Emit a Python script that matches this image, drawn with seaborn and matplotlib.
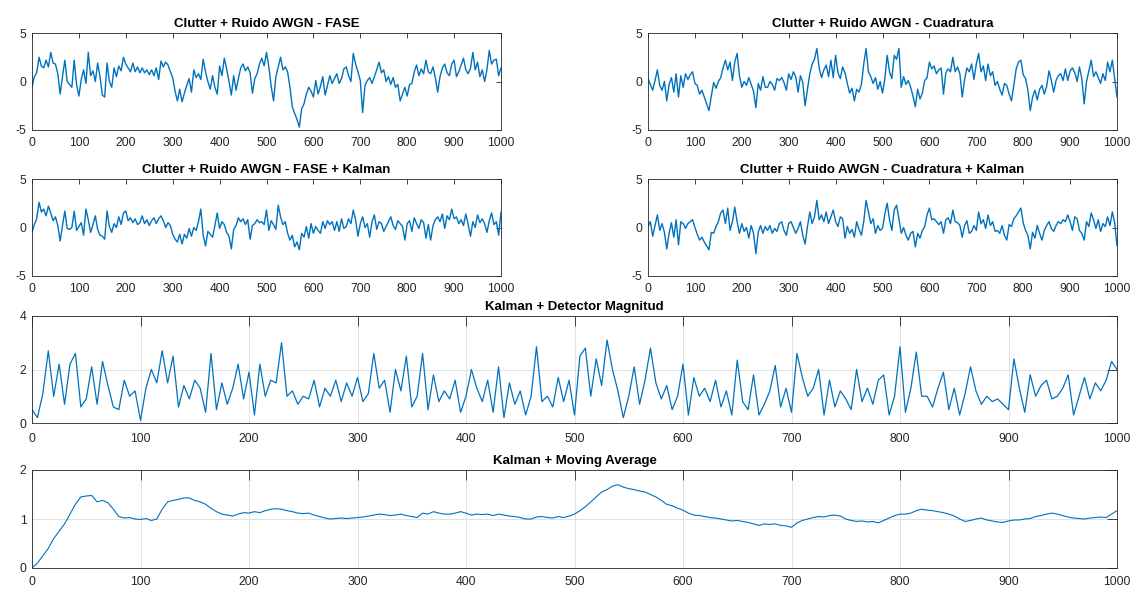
import numpy as np
import pandas as pd
import matplotlib
matplotlib.use("Agg")
import matplotlib.pyplot as plt
import seaborn as sns

# Sampled signals (one value every 5 samples, 0..1000)
STEP = 5

fase = [
    -0.6, 0.5, 0.9, 2.5, 1.6, 1.4, 2.2, 1.5, 3.0, 1.9,
    1.8, 0.8, -1.3, 0.5, 2.2, 0.0, -0.3, -0.6, 2.2, -0.3,
    -1.5, 0.2, 1.2, -0.2, 3.0, 0.6, 1.1, 0.0, 1.9, 0.5,
    -1.4, -1.6, 1.9, 0.0, -0.6, 1.4, 0.5, 1.6, 1.1, 2.5,
    1.8, 1.4, 1.0, 1.9, 1.0, 1.5, 0.9, 1.4, 0.9, 1.2,
    0.7, 1.2, 0.6, 1.4, 0.2, 2.1, 1.5, 2.0, 1.7, 1.0,
    0.4, -1.0, -2.0, -0.8, -2.1, -1.2, -0.4, 0.3, -1.1, 1.2,
    0.4, 0.8, 0.2, 2.3, 1.0, 0.0, -0.8, 0.6, -0.6, -1.3,
    1.6, 0.6, 2.4, 1.3, 0.0, -1.4, 0.6, -0.9, 0.3, 1.4,
    1.8, 1.1, 1.5, 0.9, -1.2, 0.3, 0.8, 1.8, 2.4, 1.6,
    3.0, 1.5, -0.5, -2.0, 0.5, 1.5, 2.5, 1.2, 1.5, 1.0,
    -0.6, -2.6, -3.3, -3.9, -4.7, -2.8, -2.3, -1.3, -0.6, -1.0,
    -1.6, 0.1, -1.3, -0.5, 0.5, -1.4, -0.4, 0.6, -0.2, 0.3,
    0.8, -0.2, 0.3, 1.3, 1.5, 0.6, 0.0, 2.9, 1.8, 1.0,
    0.1, -3.2, -0.4, 0.1, 0.4, -0.2, 0.5, 1.2, 2.0, 0.9,
    1.2, 0.0, 0.5, -0.3, 0.4, -0.6, -0.3, -2.0, -1.3, -0.6,
    -1.5, -0.3, -0.2, 1.0, 1.7, 0.6, 1.3, 0.8, 2.2, 1.0,
    0.8, 1.5, 0.4, -1.1, 0.5, 1.4, 1.8, 0.9, 0.6, 1.8,
    2.2, 0.5, 1.0, 1.7, 2.4, 1.2, 0.8, 1.4, 3.0, 1.2,
    2.0, 0.5, 1.2, 0.0, 1.2, 3.2, 1.8, 2.2, 2.3, 0.6,
    1.4,
]

cuadratura = [
    0.3, -0.3, -0.9, 0.1, 1.2, -0.4, -0.9, 0.0, -2.0, -0.3,
    0.4, -1.1, 0.8, -1.6, 0.6, -0.6, 0.8, 0.2, 0.7, 1.0,
    -0.2, -0.4, -1.3, -0.9, -1.6, -2.3, -3.0, -1.5, -0.1, -0.7,
    0.0, 0.4, 1.4, 2.2, 1.2, 2.0, 0.1, 2.0, 2.9, 0.6,
    -0.6, 0.0, -0.4, 0.4, -0.3, -1.0, -2.7, -0.2, -0.9, 0.5,
    -0.6, -0.6, 0.0, -0.3, -0.9, 0.3, 0.1, 0.4, -0.1, -0.9,
    0.8, 0.2, 1.0, 0.5, -1.1, 0.6, -0.1, -2.5, -0.8, 0.8,
    1.8, 2.3, 3.4, 1.4, 0.4, 1.2, 1.7, 0.5, 2.2, 0.4,
    2.7, 0.9, 0.3, 1.5, 0.9, -0.2, -1.2, -0.7, -2.0, -0.8,
    -1.1, -0.3, 1.8, 3.4, 1.0, 0.5, -0.2, 0.4, -0.8, 0.0,
    -1.2, 0.3, 2.7, 1.0, 0.3, 2.7, 2.3, 3.4, -0.6, 0.5,
    -0.3, 0.1, -0.6, -1.5, -2.6, -0.8, -1.8, -1.2, 0.1, 0.4,
    2.0, 1.3, 1.6, 0.8, 1.2, 1.4, -1.3, 0.9, 1.3, 1.0,
    2.5, 1.0, 1.5, 0.8, -1.6, 0.2, 1.4, 1.0, 1.8, 0.2,
    1.8, 2.9, 1.0, 1.6, 0.1, 1.8, 0.6, 1.0, -0.4, 0.0,
    -0.8, -1.4, -0.2, -0.4, -1.3, -2.0, -0.4, 1.3, 2.0, 2.2,
    0.7, 0.3, -0.9, -3.0, -1.6, -0.9, -1.9, -0.8, -0.4, -1.3,
    -0.5, 1.1, 0.1, -1.1, 0.1, 0.6, 0.8, 0.1, 1.3, 0.1,
    1.1, 1.4, 0.9, 0.0, 1.5, 0.3, -2.3, 0.0, 1.1, 2.2,
    0.5, 1.0, 0.4, -0.2, 0.8, 0.1, 2.0, 1.0, 2.2, 0.3,
    -1.6,
]

fase_kalman = [
    -0.5, 0.3, 0.9, 2.6, 1.6, 1.9, 1.2, 2.2, 1.5, 0.7,
    1.1, 0.2, -1.4, 0.2, 1.7, -0.1, -0.2, 0.0, 1.7, -0.3,
    0.1, 0.5, -0.8, 1.9, 0.8, -0.5, 0.3, 1.2, -0.2, -0.8,
    -0.9, -1.2, 1.7, 0.1, -0.5, 0.4, 0.0, 1.1, 0.3, 1.5,
    1.7, 0.7, 1.0, 0.5, 0.9, 0.3, 0.5, 1.2, 0.4, 0.8,
    0.2, 0.7, 1.0, 0.4, 0.9, 1.2, 0.7, 0.0, 0.5, 0.2,
    -0.7, -1.2, -1.5, -0.7, -1.7, -0.7, -1.1, -0.1, -0.9, 0.0,
    -0.3, 0.6, 1.9, -0.8, -1.9, -0.4, -0.7, -1.0, 0.2, 1.5,
    -0.1, 0.6, 0.3, -0.5, -0.9, -2.2, -0.2, 0.2, 1.0, 0.6,
    0.9, 0.3, 0.8, -1.2, 0.2, 0.4, 0.8, 0.5, 0.6, 0.3,
    1.8, -0.3, 0.7, 0.3, -0.2, 2.3, 1.1, 0.3, 0.6, -0.6,
    -1.3, -0.8, -2.0, -1.5, -2.3, -0.6, -1.0, 0.1, -1.1, 0.4,
    -0.6, 0.1, -0.3, -0.6, 0.6, -0.1, 0.7, 0.3, 0.6, -0.3,
    0.6, -0.4, 0.9, -0.1, 0.1, 0.9, 0.4, 1.8, 0.8, -0.9,
    0.4, 1.1, 0.0, 0.4, -1.0, 0.6, 1.3, -0.2, 0.6, 0.4,
    -0.4, 0.1, 0.6, 1.1, 0.2, -0.2, 0.7, 0.4, 0.1, -1.3,
    0.4, 0.7, -0.4, 1.0, 0.4, -0.1, 0.8, 0.5, -1.1, 0.3,
    -1.3, 0.2, 0.8, 1.1, 0.6, 1.4, -0.1, 1.2, 0.8, 1.9,
    0.9, 1.1, 0.4, 0.8, 0.2, 1.4, 0.3, -0.9, 0.6, 0.0,
    1.3, 0.5, 0.9, 0.4, -0.5, 0.7, 1.5, 0.3, 0.6, -0.8,
    1.6,
]

cuadratura_kalman = [
    0.1, 0.6, -0.9, 0.2, 1.3, -0.3, 0.4, -0.5, -2.2, -0.6,
    0.5, -1.0, 0.8, -1.8, 0.6, 0.4, -0.1, 0.4, 0.6, 0.8,
    0.0, -0.7, -1.3, -1.0, -1.5, -1.9, -2.3, -0.5, -0.6, 0.1,
    0.6, 1.5, 1.8, 0.4, 2.0, -0.3, 0.6, 2.1, 0.6, -0.6,
    0.4, -0.4, 0.0, -1.1, 0.2, -0.6, -2.7, -0.5, 0.2, -0.6,
    0.1, -0.3, 0.2, -0.6, -0.1, -0.4, 0.4, 0.6, -0.3, -0.8,
    0.4, 0.6, 0.0, -0.6, -0.1, 0.6, -0.8, -1.7, 0.1, 1.6,
    0.4, 1.1, 2.8, 0.8, 1.3, 0.6, 1.6, 0.4, 1.1, 1.8,
    0.6, 0.1, 1.1, 0.9, -1.1, 0.1, -0.6, -0.2, -1.0, 0.6,
    -0.2, -0.8, 0.6, 2.8, 1.6, 0.4, 0.9, -0.6, 0.2, -0.3,
    -0.1, 1.4, 2.5, 0.8, -0.3, 1.8, 2.3, 0.9, -0.6, 0.0,
    -0.8, -1.3, -0.6, -0.4, -2.0, -0.6, -1.1, -0.3, 0.1, 1.3,
    2.0, 0.8, 0.9, 0.6, 0.3, 0.6, -0.6, 0.8, 1.0, 0.4,
    1.8, 0.6, 0.5, 0.2, -1.0, 0.2, 0.7, -0.6, -0.4, 0.2,
    -0.3, 1.6, 0.4, 0.8, -0.1, 1.3, 0.2, 0.6, -0.4, -0.3,
    -0.6, 0.2, -0.8, -1.3, 0.3, 0.1, 0.9, 1.2, 1.6, 2.0,
    0.5, -0.3, -0.8, -2.2, -0.5, -1.1, 0.2, -0.6, -1.3, -0.3,
    0.2, 0.6, -0.1, -0.4, 0.2, 0.6, 0.4, 0.8, 0.6, 1.3,
    0.6, -0.3, 1.1, 0.9, -0.3, -0.6, -1.3, 0.6, 0.1, 1.5,
    0.8, -0.1, 0.8, -0.4, 0.4, 0.1, 1.1, 0.2, 1.6, 0.5,
    -1.9,
]

magnitud = [
    0.5, 0.2, 1.1, 2.7, 1.0, 2.2, 0.7, 2.2, 2.6, 0.6,
    0.9, 2.1, 0.7, 2.3, 1.4, 0.6, 0.5, 1.6, 1.0, 1.2,
    0.1, 1.3, 2.0, 1.5, 2.7, 1.5, 2.5, 0.6, 1.4, 0.9,
    1.6, 1.3, 0.4, 2.6, 0.5, 1.5, 0.7, 1.3, 2.2, 0.9,
    1.9, 0.3, 2.2, 1.0, 1.6, 1.5, 3.0, 1.0, 1.2, 0.7,
    1.0, 0.9, 1.6, 0.6, 1.3, 1.0, 1.6, 0.8, 1.5, 1.0,
    1.7, 0.8, 1.1, 2.6, 1.3, 1.6, 0.4, 2.0, 1.2, 2.5,
    0.6, 1.0, 2.6, 0.5, 1.8, 0.8, 1.2, 0.9, 1.6, 0.4,
    1.0, 2.0, 1.3, 0.8, 1.6, 0.4, 2.1, 0.2, 1.5, 0.7,
    1.2, 0.3, 1.0, 2.85, 0.8, 1.0, 0.6, 1.7, 0.8, 1.6,
    0.3, 2.5, 2.8, 1.0, 2.4, 1.4, 3.1, 2.0, 1.2, 0.2,
    1.0, 2.1, 0.7, 1.6, 2.8, 1.5, 0.9, 1.4, 0.5, 1.0,
    2.2, 0.3, 1.7, 1.0, 1.3, 0.8, 1.6, 0.6, 1.2, 0.3,
    2.35, 0.8, 0.5, 1.8, 0.3, 0.7, 1.2, 2.15, 0.6, 1.3,
    0.4, 2.6, 1.7, 1.0, 1.3, 2.0, 0.3, 1.6, 0.6, 1.2,
    0.9, 0.5, 2.0, 0.8, 1.3, 0.7, 1.6, 1.8, 0.3, 1.0,
    2.85, 0.4, 1.3, 2.65, 1.0, 1.0, 0.6, 1.3, 1.9, 0.5,
    1.3, 0.3, 1.1, 2.1, 1.2, 0.7, 1.0, 0.8, 0.9, 0.7,
    0.5, 2.4, 1.3, 0.4, 1.8, 1.0, 1.4, 1.6, 0.9, 1.0,
    1.3, 1.8, 0.3, 1.0, 1.7, 0.9, 1.5, 1.2, 1.6, 2.3,
    2.0,
]

moving_avg = [
    0.0, 0.1, 0.25, 0.4, 0.6, 0.75, 0.9, 1.1, 1.3, 1.45,
    1.47, 1.48, 1.35, 1.38, 1.33, 1.2, 1.05, 1.02, 1.03, 1.0,
    0.99, 1.01, 0.97, 1.0, 1.2, 1.35, 1.38, 1.4, 1.43, 1.43,
    1.38, 1.35, 1.3, 1.22, 1.15, 1.1, 1.08, 1.06, 1.1, 1.13,
    1.12, 1.15, 1.13, 1.17, 1.2, 1.21, 1.2, 1.17, 1.15, 1.12,
    1.11, 1.12, 1.08, 1.05, 1.02, 1.0, 1.01, 1.02, 1.01, 1.02,
    1.03, 1.04, 1.06, 1.08, 1.1, 1.09, 1.07, 1.08, 1.1, 1.07,
    1.05, 1.03, 1.12, 1.1, 1.15, 1.12, 1.1, 1.1, 1.12, 1.15,
    1.12, 1.08, 1.1, 1.09, 1.1, 1.07, 1.1, 1.08, 1.06, 1.05,
    1.03, 1.0, 1.0, 1.04, 1.05, 1.03, 1.02, 1.05, 1.03, 1.06,
    1.1, 1.17, 1.25, 1.35, 1.45, 1.55, 1.6, 1.67, 1.7, 1.65,
    1.62, 1.6, 1.57, 1.55, 1.5, 1.45, 1.38, 1.3, 1.27, 1.22,
    1.18, 1.12, 1.08, 1.07, 1.05, 1.03, 1.02, 1.0, 0.98, 0.96,
    0.97, 0.95, 0.93, 0.9, 0.87, 0.9, 0.89, 0.9, 0.87, 0.86,
    0.83, 0.92, 0.97, 1.0, 1.03, 1.05, 1.04, 1.07, 1.08, 1.06,
    1.0, 0.97, 0.95, 0.96, 0.94, 0.95, 0.92, 0.97, 1.02, 1.07,
    1.1, 1.1, 1.12, 1.17, 1.2, 1.18, 1.17, 1.15, 1.13, 1.1,
    1.06, 1.0, 0.95, 0.97, 1.0, 1.02, 0.98, 0.96, 0.94, 0.93,
    0.96, 0.98, 0.98, 1.0, 1.01, 1.05, 1.07, 1.1, 1.12, 1.1,
    1.07, 1.04, 1.02, 1.01, 1.0, 1.02, 1.03, 1.04, 1.03, 1.1,
    1.17,
]

titles = [
    "Clutter + Ruido AWGN - FASE",
    "Clutter + Ruido AWGN - Cuadratura",
    "Clutter + Ruido AWGN - FASE + Kalman",
    "Clutter + Ruido AWGN - Cuadratura + Kalman",
    "Kalman + Detector Magnitud",
    "Kalman + Moving Average",
]
x_ticks = list(range(0, 1001, 100))

sns.set_style("white")
plt.rcParams["font.family"] = ["Liberation Sans", "DejaVu Sans"]
plt.rcParams["axes.unicode_minus"] = False

LINE = "#0072BD"
AXC = "#262626"
W, H = 1136, 590

fig = plt.figure(figsize=(W / 100, H / 100), dpi=100)


def add_ax(left, right, top, bottom):
    return fig.add_axes([left / W, 1 - bottom / H, (right - left) / W, (bottom - top) / H])


def draw(ax, values, title, yticks, ylim, lw, ticklen, xpad, grid=False):
    n = len(values)
    df = pd.DataFrame({"n": np.arange(n) * STEP, "v": values})
    sns.lineplot(data=df, x="n", y="v", ax=ax, color=LINE, linewidth=lw,
                 estimator=None, sort=False)
    ax.set_xlim(0, 1000)
    ax.set_ylim(*ylim)
    ax.set_xticks(x_ticks)
    ax.set_yticks(yticks)
    ax.set_xlabel("")
    ax.set_ylabel("")
    ax.set_title(title, fontsize=9.5, fontweight="bold", color="black", pad=4)
    for s in ax.spines.values():
        s.set_visible(True)
        s.set_color(AXC)
        s.set_linewidth(0.6)
    ax.tick_params(direction="in", top=True, right=True, length=ticklen, width=0.6,
                   color=AXC, labelcolor=AXC, labelsize=8.7)
    ax.tick_params(axis="x", pad=xpad)
    ax.tick_params(axis="y", pad=4)
    if grid:
        ax.grid(True, color="#dcdcdc", linewidth=0.6)
        ax.set_axisbelow(True)
    else:
        ax.grid(False)


ax1 = add_ax(32, 501, 33, 130)
ax2 = add_ax(648, 1117, 33, 130)
ax3 = add_ax(32, 501, 179, 276)
ax4 = add_ax(648, 1117, 179, 276)
ax5 = add_ax(32, 1117, 316, 423)
ax6 = add_ax(32, 1117, 470, 568)

draw(ax1, fase, titles[0], [-5, 0, 5], (-5, 5), 1.0, 3.6, 5)
draw(ax2, cuadratura, titles[1], [-5, 0, 5], (-5, 5), 1.0, 3.6, 5)
draw(ax3, fase_kalman, titles[2], [-5, 0, 5], (-5, 5), 1.0, 3.6, 5)
draw(ax4, cuadratura_kalman, titles[3], [-5, 0, 5], (-5, 5), 1.0, 3.6, 5)
draw(ax5, magnitud, titles[4], [0, 2, 4], (0, 4), 0.9, 7.0, 7, grid=True)
draw(ax6, moving_avg, titles[5], [0, 1, 2], (0, 2), 0.8, 7.0, 6, grid=True)

fig.savefig("out.png", dpi=100, facecolor="white")
